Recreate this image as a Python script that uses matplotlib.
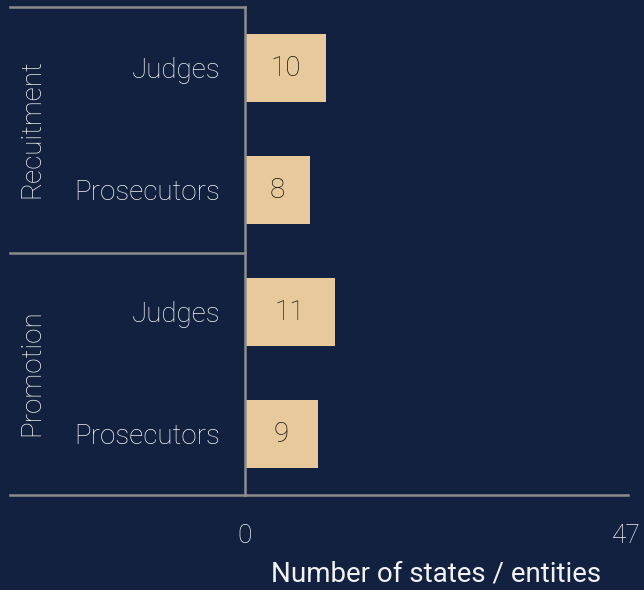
import matplotlib.pyplot as plt
from matplotlib.lines import Line2D
from matplotlib.transforms import ScaledTranslation

# data
groups = ["Recuitment", "Promotion"]
categories = ["Judges", "Prosecutors", "Judges", "Prosecutors"]
group_of = [0, 0, 1, 1]
values = [10, 8, 11, 9]
x_max = 47

bg = "#12213f"
bar_color = "#e8c99b"
line_color = "#8c8c8c"
text_color = "#f2f2f2"

plt.rcParams['font.family'] = ['Roboto', 'DejaVu Sans']

fig = plt.figure(figsize=(6.44, 5.90), dpi=100, facecolor=bg)
ax = fig.add_axes([245 / 644, 1 - 495 / 590, (628 - 245) / 644, 488 / 590])
ax.set_facecolor(bg)

y = list(range(len(values)))
ax.barh(y, values, height=0.56, color=bar_color, edgecolor="none")
for yi, v in zip(y, values):
    ax.text(v / 2, yi, str(v), ha="center", va="center", fontsize=20,
            color="#111111", fontweight="light")

ax.set_xlim(0, x_max)
ax.set_ylim(len(values) - 0.5, -0.5)

# spines
for s in ["top", "right"]:
    ax.spines[s].set_visible(False)
ax.spines["left"].set_color(line_color)
ax.spines["bottom"].set_color(line_color)
ax.spines["left"].set_linewidth(1.8)
ax.spines["bottom"].set_linewidth(1.8)

ax.set_yticks(y)
ax.set_yticklabels(categories, fontsize=20, color=text_color, fontweight="light")
ax.tick_params(axis="y", length=0, pad=18)
ax.set_xticks([0, x_max])
ax.set_xticklabels(["0", str(x_max)], fontsize=19, color=text_color, fontweight="light")
ax.tick_params(axis="x", length=0, pad=21)
# the right-hand tick label sits a little past the axis end
lbl = ax.get_xticklabels()[-1]
lbl.set_horizontalalignment("right")
lbl.set_transform(lbl.get_transform() + ScaledTranslation(0.13, 0, fig.dpi_scale_trans))
ax.set_xlabel("Number of states / entities", fontsize=20, color=text_color, labelpad=9)

# group separators in the left panel
x0 = 10 / 644
xa = 245 / 644
for yy in [1 - 7 / 590, 1 - 253 / 590, 1 - 495 / 590]:
    fig.add_artist(Line2D([x0, xa], [yy, yy], color=line_color, lw=1.8,
                          transform=fig.transFigure))

# group labels
for gi, g in enumerate(groups):
    rows = [i for i, gg in enumerate(group_of) if gg == gi]
    yc = sum(rows) / len(rows)
    yfig = fig.transFigure.inverted().transform(ax.transData.transform((0, yc)))[1]
    fig.text(32 / 644, yfig, g, rotation=90, ha="center", va="center",
             fontsize=20, color=text_color, fontweight="light")

fig.savefig("out.png", dpi=100, facecolor=bg)
